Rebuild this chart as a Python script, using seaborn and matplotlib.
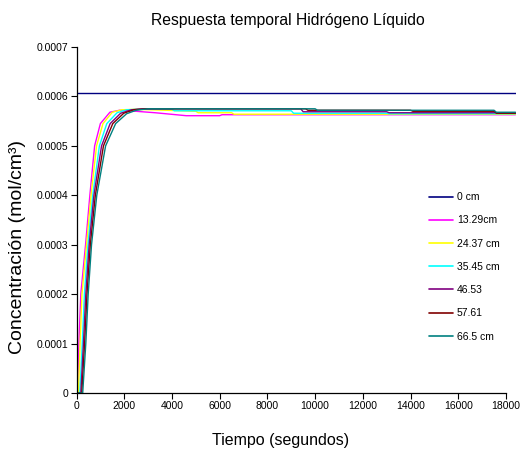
import matplotlib
matplotlib.use("Agg")
import matplotlib.pyplot as plt
from matplotlib import font_manager
from matplotlib.lines import Line2D
import numpy as np
import pandas as pd
import seaborn as sns

# Series labels and Excel-style line colours
series_labels = ["0 cm", "13.29cm", "24.37 cm", "35.45 cm", "46.53", "57.61", "66.5 cm"]
series_colors = ["#000080", "#FF00FF", "#FFFF00", "#00FFFF", "#800080", "#800000", "#008080"]

# Time (s) and concentration (x1e-4 mol/cm3) for each depth
t_0 = [0, 18400]
c_0 = [6.07, 6.07]

t_13 = [0, 40, 100, 180, 380, 560, 760, 1000, 1400, 1800, 2200, 3300, 4600, 6000, 6100, 18400]
c_13 = [0, 0, 1.0, 2.0, 3.0, 4.0, 5.0, 5.45, 5.68, 5.72, 5.71, 5.67, 5.61, 5.61, 5.63, 5.63]

t_24 = [0, 80, 150, 230, 420, 610, 840, 1110, 1500, 1900, 2500, 5000, 5100, 6500, 6600, 18400]
c_24 = [0, 0, 1.0, 2.0, 3.0, 4.0, 5.0, 5.45, 5.68, 5.73, 5.74, 5.70, 5.67, 5.67, 5.64, 5.64]

t_35 = [0, 140, 240, 330, 480, 680, 960, 1270, 1700, 2100, 2600, 4000, 4100, 9000, 9100, 13000, 13100, 18400]
c_35 = [0, 0, 1.0, 2.0, 3.0, 4.0, 5.0, 5.45, 5.67, 5.73, 5.74, 5.74, 5.71, 5.71, 5.66, 5.66, 5.65, 5.65]

t_46 = [0, 180, 290, 390, 530, 730, 1050, 1410, 1850, 2300, 2800, 9400, 9500, 13000, 13100, 18400]
c_46 = [0, 0, 1.0, 2.0, 3.0, 4.0, 5.0, 5.45, 5.66, 5.73, 5.75, 5.75, 5.69, 5.69, 5.67, 5.67]

t_57 = [0, 220, 340, 440, 580, 790, 1130, 1520, 1980, 2400, 2900, 9600, 9700, 14000, 14100, 17500, 17600, 18400]
c_57 = [0, 0, 1.0, 2.0, 3.0, 4.0, 5.0, 5.45, 5.66, 5.73, 5.75, 5.75, 5.72, 5.72, 5.70, 5.70, 5.66, 5.66]

t_66 = [0, 260, 390, 490, 630, 850, 1220, 1640, 2100, 2500, 3000, 10000, 10100, 17500, 17600, 18400]
c_66 = [0, 0, 1.0, 2.0, 3.0, 4.0, 5.0, 5.45, 5.65, 5.72, 5.75, 5.75, 5.72, 5.72, 5.68, 5.68]

x_ticks = [0, 2000, 4000, 6000, 8000, 10000, 12000, 14000, 16000, 18000]
y_ticks = [0, 0.0001, 0.0002, 0.0003, 0.0004, 0.0005, 0.0006, 0.0007]
y_tick_labels = ["0", "0.0001", "0.0002", "0.0003", "0.0004", "0.0005", "0.0006", "0.0007"]

times = [t_0, t_13, t_24, t_35, t_46, t_57, t_66]
concs = [c_0, c_13, c_24, c_35, c_46, c_57, c_66]

frames = []
for label, t, c in zip(series_labels, times, concs):
    frames.append(pd.DataFrame({
        "Tiempo": t,
        "Concentracion": np.array(c) * 1e-4,
        "Serie": label,
    }))
df = pd.concat(frames, ignore_index=True)

sns.set_theme(style="white")


def pick_font(names):
    for n in names:
        try:
            font_manager.findfont(n, fallback_to_default=False)
            return n
        except Exception:
            continue
    return "DejaVu Sans"


narrow = pick_font(["Liberation Sans Narrow", "Liberation Sans", "DejaVu Sans"])
regular = pick_font(["Liberation Sans", "DejaVu Sans"])
plt.rcParams["font.family"] = [regular, "DejaVu Sans"]
plt.rcParams["text.color"] = "black"
plt.rcParams["axes.labelcolor"] = "black"
plt.rcParams["xtick.color"] = "black"
plt.rcParams["ytick.color"] = "black"

fig = plt.figure(figsize=(5.31, 4.57), dpi=100)
ax = fig.add_axes([76.5 / 531, 1 - 393 / 457, (515.5 - 76.5) / 531, (393 - 47) / 457])

sns.lineplot(
    data=df, x="Tiempo", y="Concentracion", hue="Serie",
    hue_order=series_labels, palette=series_colors,
    units="Serie", estimator=None, sort=False,
    linewidth=1.0, ax=ax, legend=False,
)

ax.set_xlim(0, 18400)
ax.set_ylim(0, 0.0007)
ax.set_xticks(x_ticks)
ax.set_xticklabels([str(v) for v in x_ticks], fontfamily=narrow, fontsize=7.5, color="black")
ax.set_yticks(y_ticks)
ax.set_yticklabels(y_tick_labels, fontfamily=narrow, fontsize=7.5, color="black")
ax.spines["bottom"].set_bounds(0, 18000)
for s in ["top", "right"]:
    ax.spines[s].set_visible(False)
for s in ["left", "bottom"]:
    ax.spines[s].set_color("black")
    ax.spines[s].set_linewidth(0.9)
ax.tick_params(axis="both", which="major", direction="out", length=4, width=0.8,
               colors="black", pad=2, left=True, bottom=True)

ax.set_xlabel("Tiempo (segundos)", fontfamily=narrow, fontsize=11.5, color="black")
ax.xaxis.set_label_coords((281 - 76.5) / 439, (393 - 440) / 346)
ax.xaxis.label.set_va("center")
ax.set_ylabel("Concentración (mol/cm³)", fontfamily=regular, fontsize=14, color="black")
ax.yaxis.set_label_coords((18 - 76.5) / 439, (393 - 247) / 346)
ax.yaxis.label.set_va("center")
fig.text(288 / 531, 1 - 20 / 457, "Respuesta temporal Hidrógeno Líquido",
         ha="center", va="center", fontfamily=narrow, fontsize=11.3, color="black")

handles = [Line2D([0], [0], color=c, lw=1.2) for c in series_colors]
leg = ax.legend(handles, series_labels, loc="upper left",
                bbox_to_anchor=(424 / 531, 1 - 187 / 457), bbox_transform=fig.transFigure,
                frameon=False, prop={"family": narrow, "size": 7.5},
                handlelength=2.3, handletextpad=0.35, labelspacing=1.27, borderpad=0)
for txt in leg.get_texts():
    txt.set_color("black")

fig.savefig("out.png", dpi=100)
